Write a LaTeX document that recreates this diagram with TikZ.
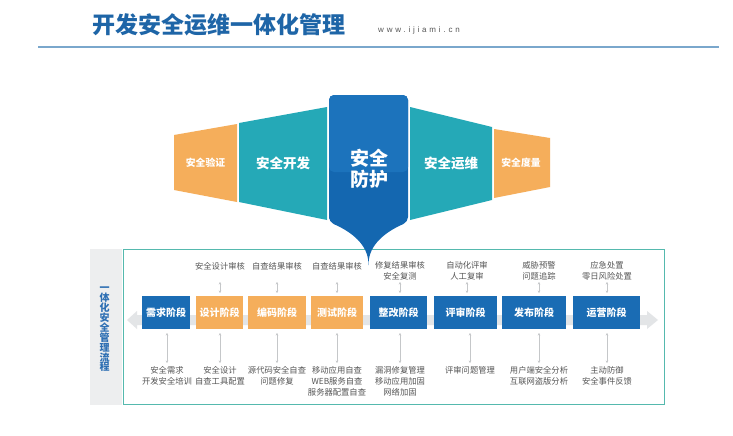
\documentclass[tikz,border=0pt]{standalone}
\usepackage{fontspec}
\setmainfont{Noto Sans CJK SC}
\newfontfamily\urlfont[LetterSpace=35]{Liberation Sans}
\usetikzlibrary{arrows.meta,calc}
\definecolor{ttlblue}{HTML}{1E65A7}
\definecolor{lineblue}{HTML}{7AA7CC}
\definecolor{orng}{HTML}{F5AE5B}
\definecolor{teal2}{HTML}{25A9B7}
\definecolor{cblue}{HTML}{1467B0}
\definecolor{cblueL}{HTML}{1C73BC}
\definecolor{sblue}{HTML}{1A6CB4}
\definecolor{boxc}{HTML}{55B9AE}
\definecolor{stripc}{HTML}{EDEEEF}
\definecolor{bandc}{HTML}{E3E5E7}
\definecolor{txtg}{HTML}{555555}
\definecolor{arrg}{HTML}{C5C7C9}
\definecolor{vtxt}{HTML}{2D6FB3}
\tikzset{
  stg/.style={inner sep=0pt, minimum height=33pt, text=white, font=\bfseries\fontsize{10}{10}\selectfont},
  lbl/.style={inner sep=0pt, text=txtg, align=center, font=\fontsize{8.3}{11}\selectfont},
  sarr/.style={draw=arrg, line width=0.6pt, {Stealth[length=2.5pt,width=2.6pt]}-{Stealth[length=2.5pt,width=2.6pt]}},
  toptxt/.style={inner sep=0pt, text=white, font=\bfseries},
}
\begin{document}
\begin{tikzpicture}[x=1pt,y=-1pt]
\useasboundingbox[fill=white] (0,0) rectangle (733,436);
% title
\node[anchor=west, inner sep=0pt, text=ttlblue, font=\bfseries\fontsize{23}{23}\selectfont] (title) at (92,25) {开发安全运维一体化管理};
\node[anchor=west, inner sep=0pt, text=txtg, font=\urlfont\fontsize{8}{8}\selectfont] (url) at (378,30) {www.ijiami.cn};
\draw[lineblue, line width=1.5pt] (38,47) -- (719,47);
% lower frame
\fill[stripc] (90,249) rectangle (122,405);
\node[inner sep=0pt, text=vtxt, align=center, font=\bfseries\fontsize{10}{9.9}\selectfont] (vt) at (104.5,329.5) {一\\体\\化\\安\\全\\管\\理\\流\\程};
\draw[boxc, line width=1pt] (123,249) rectangle (664,404);
\fill[bandc] (137,315) -- (647,315) -- (647,311) -- (658,320) -- (647,329) -- (647,325) -- (137,325) -- (137,329) -- (127,320) -- (137,311) -- cycle;
% stages
\node[stg, fill=sblue, minimum width=48pt] (s1) at (166,312.5) {需求阶段};
\node[stg, fill=orng, minimum width=47pt] (s2) at (219.5,312.5) {设计阶段};
\node[stg, fill=orng, minimum width=58pt] (s3) at (277,312.5) {编码阶段};
\node[stg, fill=orng, minimum width=52pt] (s4) at (337,312.5) {测试阶段};
\node[stg, fill=sblue, minimum width=57pt] (s5) at (398.5,312.5) {整改阶段};
\node[stg, fill=sblue, minimum width=63pt] (s6) at (465.5,312.5) {评审阶段};
\node[stg, fill=sblue, minimum width=64pt] (s7) at (534,312.5) {发布阶段};
\node[stg, fill=sblue, minimum width=67pt] (s8) at (606.5,312.5) {运营阶段};
% top labels
\node[lbl] (t2) at (220,266) {安全设计审核};
\node[lbl] (t3) at (277,266) {自查结果审核};
\node[lbl] (t4) at (337,266) {自查结果审核};
\node[lbl, anchor=north] (t5) at (400,261) {修复结果审核\\安全复测};
\node[lbl, anchor=north] (t6) at (467,261) {自动化评审\\人工复审};
\node[lbl, anchor=north] (t7) at (539,261) {威胁预警\\问题追踪};
\node[lbl, anchor=north] (t8) at (607,261) {应急处置\\零日风险处置};
% bottom labels
\node[lbl, anchor=north] (b1) at (167,366) {安全需求\\开发安全培训};
\node[lbl, anchor=north] (b2) at (220,366) {安全设计\\自查工具配置};
\node[lbl, anchor=north] (b3) at (277,366) {源代码安全自查\\问题修复};
\node[lbl, anchor=north] (b4) at (337,366) {移动应用自查\\WEB服务自查\\服务器配置自查};
\node[lbl, anchor=north] (b5) at (400,366) {漏洞修复管理\\移动应用加固\\网络加固};
\node[lbl, anchor=north] (b6) at (470,366) {评审问题管理};
\node[lbl, anchor=north] (b7) at (539,366) {用户端安全分析\\互联网盗版分析};
\node[lbl, anchor=north] (b8) at (607,366) {主动防御\\安全事件反馈};
% small arrows
\foreach \n in {2,...,8} {
  \draw[sarr] (t\n.south |- 0,282) -- (t\n.south |- 0,293);
}
\foreach \n in {1,...,8} {
  \draw[sarr] (b\n.north |- 0,333) -- (b\n.north |- 0,363);
}
% top graphic
\fill[orng] (174,135) -- (237,124) -- (237,202) -- (174,190) -- cycle;
\fill[teal2] (239,123) -- (327,107) -- (327,220) -- (239,202) -- cycle;
\fill[teal2] (410,107) -- (492,127) -- (492,200) -- (410,220) -- cycle;
\fill[orng] (494,129) -- (550,138) -- (550,187) -- (494,198) -- cycle;
\fill[cblue, rounded corners=5pt] (329,222) -- (329,95) -- (408,95) -- (408,222) .. controls (385,232) and (369,245) .. (368.5,268) .. controls (368,245) and (352,232) .. (329,222) -- cycle;
\fill[cblueL, rounded corners=5pt] (329,172) -- (329,95) -- (408,95) -- (408,172) -- cycle;
\node[toptxt, font=\bfseries\fontsize{9.8}{10}\selectfont] (m1) at (205.5,163) {安全验证};
\node[toptxt, font=\bfseries\fontsize{13.5}{14}\selectfont] (m2) at (283,163) {安全开发};
\node[toptxt, align=center, font=\bfseries\fontsize{19}{21}\selectfont] (m3) at (369,168.5) {安全\\防护};
\node[toptxt, font=\bfseries\fontsize{13.5}{14}\selectfont] (m4) at (451,163) {安全运维};
\node[toptxt, font=\bfseries\fontsize{9.8}{10}\selectfont] (m5) at (521,163) {安全度量};
\end{tikzpicture}
\end{document}
